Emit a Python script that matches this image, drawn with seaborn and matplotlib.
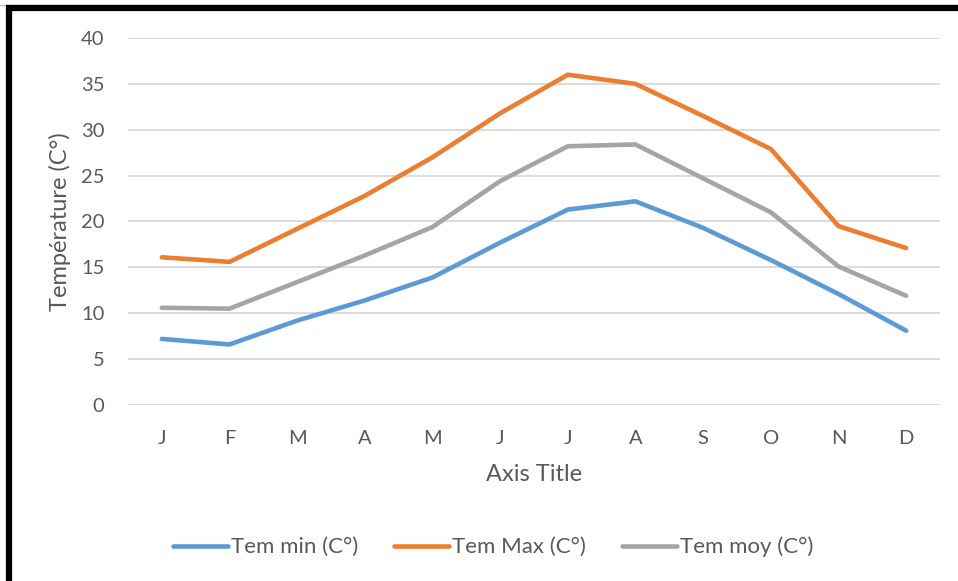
import matplotlib
matplotlib.use("Agg")
import matplotlib.pyplot as plt
import seaborn as sns
import pandas as pd
from matplotlib.lines import Line2D

# Monthly temperatures (°C)
months = ["J", "F", "M", "A", "M", "J", "J", "A", "S", "O", "N", "D"]
tem_min = [7.2, 6.6, 9.2, 11.4, 13.9, 17.7, 21.3, 22.2, 19.3, 15.8, 12.1, 8.1]
tem_max = [16.1, 15.6, 19.2, 22.8, 27.0, 31.8, 36.0, 35.0, 31.5, 27.9, 19.5, 17.1]
tem_moy = [10.6, 10.5, 13.4, 16.3, 19.4, 24.4, 28.2, 28.4, 24.7, 21.0, 15.1, 11.9]
series_names = ["Tem min (C°)", "Tem Max (C°)", "Tem moy (C°)"]
colors = ["#5b9bd5", "#ed7d31", "#a5a5a5"]

rows = []
for name, vals in zip(series_names, [tem_min, tem_max, tem_moy]):
    for i, v in enumerate(vals):
        rows.append({"pos": i, "temp": v, "serie": name})
df = pd.DataFrame(rows)

sns.set_theme(style="white")
plt.rcParams["font.family"] = ["Lato", "DejaVu Sans"]
text_color = "#595959"

fig = plt.figure(figsize=(9.58, 5.81), dpi=100)
ax = fig.add_axes([128 / 958, 1 - 405 / 581, (940 - 128) / 958, (405 - 38) / 581])

sns.lineplot(data=df, x="pos", y="temp", hue="serie", palette=colors,
             hue_order=series_names, linewidth=3.3, ax=ax, legend=False,
             solid_capstyle="round", solid_joinstyle="round")

ax.set_xlim(-0.5, len(months) - 0.5)
ax.set_ylim(0, 40)
ax.set_yticks(range(0, 41, 5))
ax.set_xticks(range(len(months)))
ax.set_xticklabels(months)
ax.grid(axis="y", color="#d9d9d9", linewidth=1.3)
ax.grid(axis="x", visible=False)
ax.set_axisbelow(True)
for side in ["left", "right", "top", "bottom"]:
    ax.spines[side].set_visible(False)
ax.tick_params(axis="y", length=0, pad=17, labelsize=14.5, labelcolor=text_color)
ax.tick_params(axis="x", length=0, pad=18, labelsize=14.5, labelcolor=text_color)

ax.set_xlabel("Axis Title", fontsize=17, color=text_color, labelpad=12)
ax.set_ylabel("Température (C°)", fontsize=17, color=text_color, labelpad=7)

handles = [Line2D([0], [0], color=c, lw=3.3, solid_capstyle="round") for c in colors]
fig.legend(handles, series_names, loc="center", bbox_to_anchor=(0.5146, 1 - 547 / 581),
           ncol=3, frameon=False, fontsize=16, handlelength=2.5, handletextpad=0.12,
           columnspacing=1.6, labelcolor=text_color)

# Black frame along the top and left edges
fig.add_artist(Line2D([0, 1], [1 - 4.5 / 581] * 2, transform=fig.transFigure,
                      color="#bbbbbb", lw=1))
fig.add_artist(Line2D([0.0063, 1], [1 - 8 / 581] * 2, transform=fig.transFigure,
                      color="black", lw=4.5, solid_capstyle="butt"))
fig.add_artist(Line2D([9 / 958] * 2, [0, 1 - 5.5 / 581], transform=fig.transFigure,
                      color="black", lw=4.5, solid_capstyle="butt"))

fig.savefig("out.png", dpi=100)
